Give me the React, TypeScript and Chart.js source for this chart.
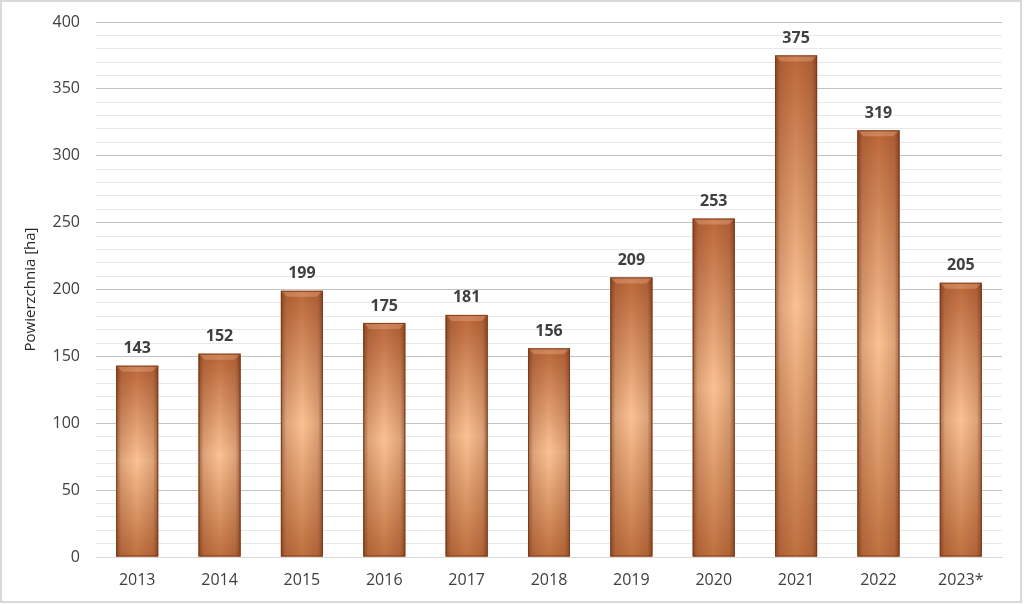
import React, { useEffect, useRef } from "react";
import { Chart, registerables } from "chart.js";

Chart.register(...registerables);

const categories = ["2013", "2014", "2015", "2016", "2017", "2018", "2019", "2020", "2021", "2022", "2023*"];
const areaValues = [143, 152, 199, 175, 181, 156, 209, 253, 375, 319, 205];
const yAxisTitle = "Powierzchnia [ha]";

const FONT = "'Open Sans', 'Noto Sans', sans-serif";

const framePlugin = {
  id: "frame",
  beforeDraw(chart: any) {
    const ctx = chart.ctx;
    ctx.save();
    ctx.fillStyle = "#ffffff";
    ctx.fillRect(0, 0, chart.width, chart.height);
    ctx.strokeStyle = "#d9d9d9";
    ctx.lineWidth = 2;
    ctx.strokeRect(1, 1, 1020, 601);
    ctx.restore();
  },
};

const barPaintPlugin = {
  id: "barPaint",
  afterDatasetsDraw(chart: any) {
    const ctx = chart.ctx;
    const meta = chart.getDatasetMeta(0);
    const ds = chart.data.datasets[0];
    meta.data.forEach((bar: any, i: number) => {
      const { x, y, base, width } = bar.getProps(["x", "y", "base", "width"], true);
      const left = x - width / 2;
      const right = x + width / 2;
      const top = y;
      const h = base - top;
      ctx.save();
      const vg = ctx.createLinearGradient(0, top, 0, base);
      vg.addColorStop(0, "#bb673a");
      vg.addColorStop(0.5, "#fbc293");
      vg.addColorStop(1, "#c0703f");
      ctx.fillStyle = vg;
      ctx.fillRect(left, top, width, h);
      const hg = ctx.createLinearGradient(left, 0, right, 0);
      hg.addColorStop(0, "rgba(100,40,15,0.6)");
      hg.addColorStop(0.12, "rgba(100,40,15,0.2)");
      hg.addColorStop(0.5, "rgba(100,40,15,0)");
      hg.addColorStop(0.88, "rgba(100,40,15,0.2)");
      hg.addColorStop(1, "rgba(100,40,15,0.6)");
      ctx.fillStyle = hg;
      ctx.fillRect(left, top, width, h);
      const bevel = Math.min(6, h / 4);
      ctx.fillStyle = "rgba(255,200,160,0.3)";
      ctx.beginPath();
      ctx.moveTo(left, top);
      ctx.lineTo(right, top);
      ctx.lineTo(right - bevel, top + bevel);
      ctx.lineTo(left + bevel, top + bevel);
      ctx.closePath();
      ctx.fill();
      ctx.strokeStyle = "rgba(120,55,25,0.85)";
      ctx.lineWidth = 1;
      ctx.strokeRect(left + 0.5, top + 0.5, width - 1, h - 1);
      ctx.fillStyle = "#404040";
      ctx.font = `bold 16px ${FONT}`;
      ctx.textAlign = "center";
      ctx.textBaseline = "middle";
      ctx.fillText(String(ds.data[i]), x, top - 17);
      ctx.restore();
    });
  },
};

const titlePlugin = {
  id: "yTitle",
  afterDraw(chart: any) {
    const ctx = chart.ctx;
    const area = chart.chartArea;
    ctx.save();
    ctx.translate(31, (area.top + area.bottom) / 2);
    ctx.rotate(-Math.PI / 2);
    ctx.fillStyle = "#262626";
    ctx.font = `15px ${FONT}`;
    ctx.textAlign = "center";
    ctx.textBaseline = "middle";
    ctx.fillText(yAxisTitle, 0, 0);
    ctx.restore();
  },
};

export default function App() {
  const ref = useRef<HTMLCanvasElement | null>(null);
  useEffect(() => {
    document.body.style.margin = "0";
    const canvas = ref.current!;
    const chart = new Chart(canvas, {
      type: "bar",
      data: {
        labels: categories,
        datasets: [
          {
            data: areaValues,
            backgroundColor: "#e09060",
            borderWidth: 0,
            barPercentage: 0.51,
            categoryPercentage: 1,
          },
        ],
      },
      options: {
        animation: false,
        responsive: false,
        maintainAspectRatio: false,
        layout: { padding: { left: 0, top: 22, right: 22, bottom: 0 } },
        plugins: { legend: { display: false }, tooltip: { enabled: false } },
        scales: {
          x: {
            grid: { display: false, drawTicks: false },
            border: { display: true, color: "#d9d9d9" },
            ticks: { color: "#404040", font: { family: FONT, size: 16 }, padding: 14 },
            afterFit: (s: any) => {
              s.height = 47;
              s.paddingLeft = 0;
              s.paddingRight = 0;
            },
          },
          y: {
            min: 0,
            max: 400,
            border: { display: false },
            grid: {
              drawTicks: false,
              color: (c: any) => (c.tick && c.tick.value % 50 === 0 ? "#c3c3c3" : "#e8e8e8"),
              lineWidth: 1,
            },
            ticks: {
              stepSize: 10,
              maxTicksLimit: 100,
              padding: 16,
              color: "#404040",
              font: { family: FONT, size: 16 },
              callback: (v: any) => (Number(v) % 50 === 0 ? String(v) : ""),
              autoSkip: false,
            },
            afterFit: (s: any) => {
              s.width = 96;
              s.paddingTop = 0;
              s.paddingBottom = 0;
            },
          },
        },
      },
      plugins: [framePlugin, barPaintPlugin, titlePlugin],
    });
    return () => chart.destroy();
  }, []);
  return <canvas ref={ref} width={1024} height={604} style={{ display: "block" }} />;
}
